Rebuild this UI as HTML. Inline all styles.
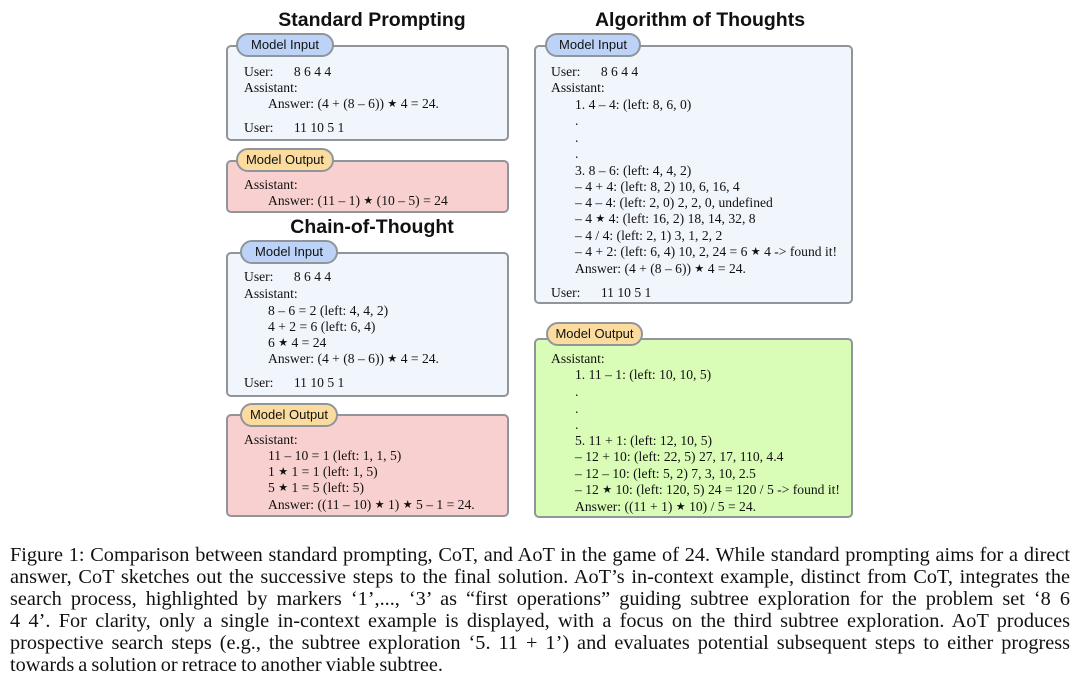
<!DOCTYPE html>
<html><head><meta charset="utf-8"><style>
body{margin:0;width:1080px;height:684px;background:#fff;position:relative;overflow:hidden;font-family:"Liberation Serif",serif;color:#111}
.t{position:absolute;font-family:"Liberation Sans",sans-serif;font-weight:bold;font-size:19.5px;text-align:center;white-space:nowrap}
.box{position:absolute;border:2.5px solid #90959c;border-radius:5px;box-sizing:border-box}
.in{background:#f1f5fc}.red{background:#f9d0d0}.grn{background:#d9fdb6}
.pill{position:absolute;height:24px;border:2.5px solid #90959c;border-radius:13px;box-sizing:border-box;font-family:"Liberation Sans",sans-serif;font-size:13px;line-height:19px;text-align:center;color:#111}
.b{background:#bcd3f7}.o{background:#fcdc9e}
.l{position:absolute;font-size:13.6px;white-space:nowrap;line-height:16px}
.s{font-size:11px;position:relative;top:-1px}
.c{position:absolute;left:10px;width:1060px;font-size:20.3px;word-spacing:-1px;line-height:22px;text-align:justify;text-align-last:justify;white-space:nowrap}
</style></head><body>
<div class="t" style="left:222px;top:9px;width:300px">Standard Prompting</div>
<div class="t" style="left:222px;top:216px;width:300px">Chain-of-Thought</div>
<div class="t" style="left:550px;top:9px;width:300px">Algorithm of Thoughts</div>

<div class="box in" style="left:226px;top:45px;width:283px;height:96px"></div>
<div class="pill b" style="left:236px;top:33px;width:98px">Model Input</div>
<div class="l" style="left:244px;top:64px">User:&nbsp;&nbsp;&nbsp;&nbsp;&nbsp;&nbsp;8 6 4 4</div>
<div class="l" style="left:244px;top:80px">Assistant:</div>
<div class="l" style="left:268px;top:96px">Answer: (4 + (8 – 6)) <span class="s">★</span> 4 = 24.</div>
<div class="l" style="left:244px;top:120px">User:&nbsp;&nbsp;&nbsp;&nbsp;&nbsp;&nbsp;11 10 5 1</div>

<div class="box red" style="left:226px;top:160px;width:283px;height:53px"></div>
<div class="pill o" style="left:236px;top:148px;width:98px">Model Output</div>
<div class="l" style="left:244px;top:177px">Assistant:</div>
<div class="l" style="left:268px;top:193px">Answer: (11 – 1) <span class="s">★</span> (10 – 5) = 24</div>

<div class="box in" style="left:226px;top:252px;width:283px;height:145px"></div>
<div class="pill b" style="left:240px;top:240px;width:98px">Model Input</div>
<div class="l" style="left:244px;top:269px">User:&nbsp;&nbsp;&nbsp;&nbsp;&nbsp;&nbsp;8 6 4 4</div>
<div class="l" style="left:244px;top:286px">Assistant:</div>
<div class="l" style="left:268px;top:303px">8 – 6 = 2 (left: 4, 4, 2)</div>
<div class="l" style="left:268px;top:319px">4 + 2 = 6 (left: 6, 4)</div>
<div class="l" style="left:268px;top:335px">6 <span class="s">★</span> 4 = 24</div>
<div class="l" style="left:268px;top:351px">Answer: (4 + (8 – 6)) <span class="s">★</span> 4 = 24.</div>
<div class="l" style="left:244px;top:375px">User:&nbsp;&nbsp;&nbsp;&nbsp;&nbsp;&nbsp;11 10 5 1</div>

<div class="box red" style="left:226px;top:414px;width:283px;height:103px"></div>
<div class="pill o" style="left:240px;top:403px;width:98px">Model Output</div>
<div class="l" style="left:244px;top:432px">Assistant:</div>
<div class="l" style="left:268px;top:448px">11 – 10 = 1 (left: 1, 1, 5)</div>
<div class="l" style="left:268px;top:464px">1 <span class="s">★</span> 1 = 1 (left: 1, 5)</div>
<div class="l" style="left:268px;top:480px">5 <span class="s">★</span> 1 = 5 (left: 5)</div>
<div class="l" style="left:268px;top:497px">Answer: ((11 – 10) <span class="s">★</span> 1) <span class="s">★</span> 5 – 1 = 24.</div>

<div class="box in" style="left:534px;top:45px;width:319px;height:259px"></div>
<div class="pill b" style="left:545px;top:33px;width:96px">Model Input</div>
<div class="l" style="left:551px;top:64px">User:&nbsp;&nbsp;&nbsp;&nbsp;&nbsp;&nbsp;8 6 4 4</div>
<div class="l" style="left:551px;top:80px">Assistant:</div>
<div class="l" style="left:575px;top:97px">1. 4 – 4: (left: 8, 6, 0)</div>
<div class="l" style="left:575px;top:113px">.</div>
<div class="l" style="left:575px;top:130px">.</div>
<div class="l" style="left:575px;top:146px">.</div>
<div class="l" style="left:575px;top:163px">3. 8 – 6: (left: 4, 4, 2)</div>
<div class="l" style="left:575px;top:179px">– 4 + 4: (left: 8, 2) 10, 6, 16, 4</div>
<div class="l" style="left:575px;top:195px">– 4 – 4: (left: 2, 0) 2, 2, 0, undefined</div>
<div class="l" style="left:575px;top:211px">– 4 <span class="s">★</span> 4: (left: 16, 2) 18, 14, 32, 8</div>
<div class="l" style="left:575px;top:228px">– 4 / 4: (left: 2, 1) 3, 1, 2, 2</div>
<div class="l" style="left:575px;top:244px">– 4 + 2: (left: 6, 4) 10, 2, 24 = 6 <span class="s">★</span> 4 -&gt; found it!</div>
<div class="l" style="left:575px;top:261px">Answer: (4 + (8 – 6)) <span class="s">★</span> 4 = 24.</div>
<div class="l" style="left:551px;top:285px">User:&nbsp;&nbsp;&nbsp;&nbsp;&nbsp;&nbsp;11 10 5 1</div>

<div class="box grn" style="left:534px;top:338px;width:319px;height:180px"></div>
<div class="pill o" style="left:546px;top:322px;width:97px">Model Output</div>
<div class="l" style="left:551px;top:351px">Assistant:</div>
<div class="l" style="left:575px;top:367px">1. 11 – 1: (left: 10, 10, 5)</div>
<div class="l" style="left:575px;top:384px">.</div>
<div class="l" style="left:575px;top:401px">.</div>
<div class="l" style="left:575px;top:417px">.</div>
<div class="l" style="left:575px;top:433px">5. 11 + 1: (left: 12, 10, 5)</div>
<div class="l" style="left:575px;top:449px">– 12 + 10: (left: 22, 5) 27, 17, 110, 4.4</div>
<div class="l" style="left:575px;top:466px">– 12 – 10: (left: 5, 2) 7, 3, 10, 2.5</div>
<div class="l" style="left:575px;top:482px">– 12 <span class="s">★</span> 10: (left: 120, 5) 24 = 120 / 5 -&gt; found it!</div>
<div class="l" style="left:575px;top:499px">Answer: ((11 + 1) <span class="s">★</span> 10) / 5 = 24.</div>

<div class="c" style="top:544px">Figure 1: Comparison between standard prompting, CoT, and AoT in the game of 24. While standard prompting aims for a direct</div>
<div class="c" style="top:566px">answer, CoT sketches out the successive steps to the final solution. AoT’s in-context example, distinct from CoT, integrates the</div>
<div class="c" style="top:588px">search process, highlighted by markers ‘1’,..., ‘3’ as “first operations” guiding subtree exploration for the problem set ‘8 6</div>
<div class="c" style="top:610px">4 4’. For clarity, only a single in-context example is displayed, with a focus on the third subtree exploration. AoT produces</div>
<div class="c" style="top:632px">prospective search steps (e.g., the subtree exploration ‘5. 11 + 1’) and evaluates potential subsequent steps to either progress</div>
<div class="c" style="top:654px;text-align-last:left">towards a solution or retrace to another viable subtree.</div>
</body></html>
